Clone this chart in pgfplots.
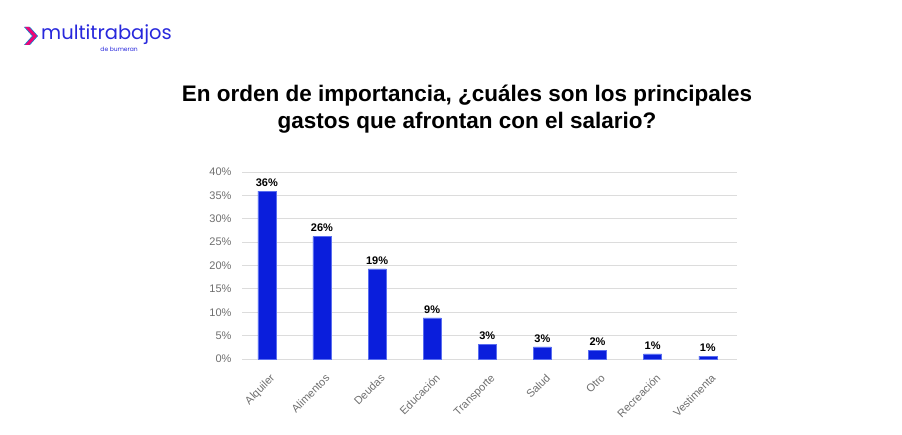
\documentclass[border=0pt]{standalone}
\usepackage{pgfplots}
\pgfplotsset{compat=1.18}
\usepackage{fontspec}
\setmainfont{Liberation Sans}
\newfontfamily\logofont{Poppins}
\definecolor{barblue}{RGB}{10,30,220}
\definecolor{baredge}{RGB}{90,110,240}
\definecolor{logoblue}{RGB}{40,40,220}
\definecolor{ticktext}{RGB}{110,110,110}
\definecolor{gridc}{RGB}{220,220,220}
\begin{document}
\begin{tikzpicture}
\begin{axis}[
  anchor=south west, at={(0pt,0pt)},
  scale only axis, width=495pt, height=187pt,
  ymin=0, ymax=40,
  xmin=-0.45, xmax=8.53,
  ytick={0,5,...,40},
  yticklabel={\pgfmathprintnumber{\tick}\%},
  /pgf/number format/assume math mode=true,
  xtick={0,...,8},
  xticklabels={Alquiler,Alimentos,Deudas,Educación,Transporte,Salud,Otro,Recreación,Vestimenta},
  x tick label style={rotate=45, anchor=north east, font=\fontsize{11}{12}\selectfont, text=ticktext, inner sep=1pt, yshift=-11pt, xshift=-7pt},
  y tick label style={font=\fontsize{11}{12}\selectfont, text=ticktext, xshift=-7pt},
  ymajorgrids, grid style={gridc, line width=0.8pt},
  axis line style={draw=none},
  major tick length=0pt,
  tick style={draw=none},
  nodes near coords,
  point meta=explicit symbolic,
  every node near coord/.append style={font=\bfseries\fontsize{11}{12}\selectfont, text=black, yshift=1pt},
  clip=false,
]
\addplot[ybar, bar width=18pt, fill=barblue, draw=baredge, line width=0.4pt] coordinates {
  (0,35.9) [36\%]
  (1,26.2) [26\%]
  (2,19.3) [19\%]
  (3,8.8) [9\%]
  (4,3.2) [3\%]
  (5,2.6) [3\%]
  (6,1.9) [2\%]
  (7,1.1) [1\%]
  (8,0.6) [1\%]
};
\end{axis}
% picture coords: origin = axis lower left at px (242,359)
\begin{scope}[x=1pt,y=1pt,shift={(-242pt,-75pt)}]
\fill[cyan!70!blue] (24,407) -- (30,407) -- (38,398) -- (30,389) -- (24,389) -- (32,398) -- cycle;
\fill[magenta!80!red] (25,407) -- (29,407) -- (37,398) -- (29,389) -- (25,389) -- (33,398) -- cycle;
\node[anchor=west, text=logoblue, inner sep=0pt] at (41,399) {\logofont\fontsize{19.5}{22}\selectfont multitrabajos};
\node[anchor=east, text=logoblue, inner sep=0pt] at (138,385) {\logofont\fontsize{6}{7}\selectfont de bumeran};
\node[align=center, font=\bfseries\fontsize{22.5}{27}\selectfont] at (467,325) {En orden de importancia, ¿cuáles son los principales\\gastos que afrontan con el salario?};
\pgfresetboundingbox
\path[use as bounding box] (0,0) rectangle (902,434);
\end{scope}
\end{tikzpicture}
\end{document}
